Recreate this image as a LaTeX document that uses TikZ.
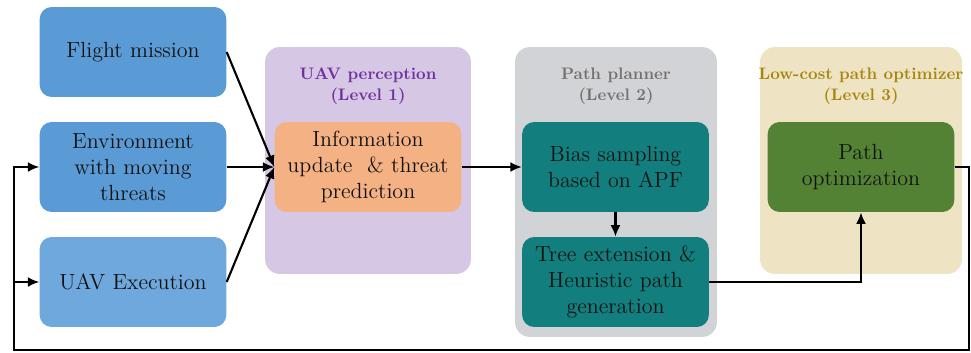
\documentclass[tikz,border=0pt]{standalone}
\usetikzlibrary{arrows.meta,positioning,calc}
\definecolor{boxBlue}{HTML}{5B9BD5}
\definecolor{boxBlueL}{HTML}{6FA8DC}
\definecolor{boxOrange}{HTML}{F4B183}
\definecolor{boxTeal}{HTML}{127F7E}
\definecolor{boxGreen}{HTML}{548235}
\definecolor{panPurple}{HTML}{D6C7E4}
\definecolor{panGray}{HTML}{D1D3D7}
\definecolor{panYellow}{HTML}{EEE4C4}
\definecolor{ttlPurple}{HTML}{7030A0}
\definecolor{ttlGray}{HTML}{767171}
\definecolor{ttlYellow}{HTML}{A8860E}
\definecolor{txtDark}{HTML}{111111}

\tikzset{
  blk/.style={rounded corners=0.24cm,minimum width=3.6cm,minimum height=1.8cm,
    text width=3.5cm,align=center,text=txtDark,font=\fontsize{12.5}{14.8}\selectfont},
  stage/.style={rounded corners=0.3cm,inner sep=0pt},
  ttl/.style={align=center,font=\fontsize{9.5}{12}\selectfont\bfseries},
  flow/.style={-{Latex[length=2.3mm,width=2mm]},line width=1.2pt}
}

\begin{document}
\begin{tikzpicture}[>=Latex,x=0.02cm,y=-0.02cm]
\useasboundingbox (0,0) rectangle (971,352);
% panels
\node[stage,fill=panPurple,minimum width=4.12cm,minimum height=4.54cm] (lv1) at (368,160.5) {};
\node[stage,fill=panGray,minimum width=4.04cm,minimum height=5.8cm] (lv2) at (616,192) {};
\node[stage,fill=panYellow,minimum width=4.04cm,minimum height=4.54cm] (lv3) at (861,160.5) {};
\node[ttl,text=ttlPurple] (t1) at (368,86) {UAV perception\\(Level 1)};
\node[ttl,text=ttlGray] (t2) at (616,86) {Path planner\\(Level 2)};
\node[ttl,text=ttlYellow] (t3) at (861,86) {Low-cost path optimizer\\(Level 3)};
% inputs
\node[blk,fill=boxBlue] (mission) at (133,52) {Flight mission};
\node[blk,fill=boxBlue] (env) at (133,167) {Environment\\with moving\\threats};
\node[blk,fill=boxBlueL] (exec) at (133,282) {UAV Execution};
% stages
\node[blk,fill=boxOrange] (info) at (368,167) {Information\\update \ \& threat\\prediction};
\node[blk,fill=boxTeal] (bias) at (615.5,167) {Bias sampling\\based on APF};
\node[blk,fill=boxTeal] (tree) at (615.5,282) {Tree extension \&\\Heuristic path\\generation};
\node[blk,fill=boxGreen] (opt) at (861,167) {Path\\optimization};
% connectors
\draw[flow] (mission.east) -- (info.west);
\draw[flow] (env.east) -- (info.west);
\draw[flow] (exec.east) -- (info.west);
\draw[flow] (info) -- (bias);
\draw[flow] (bias) -- (tree);
\draw[flow] (tree.east) -| (opt.south);
% feedback loop
\coordinate (fbR) at (969,350);
\coordinate (fbL) at (14,350);
\draw[flow] (opt.east) -| (fbR) -- (fbL) |- (env.west);
\draw[flow] (fbL |- exec.west) -- (exec.west);
\end{tikzpicture}
\end{document}
